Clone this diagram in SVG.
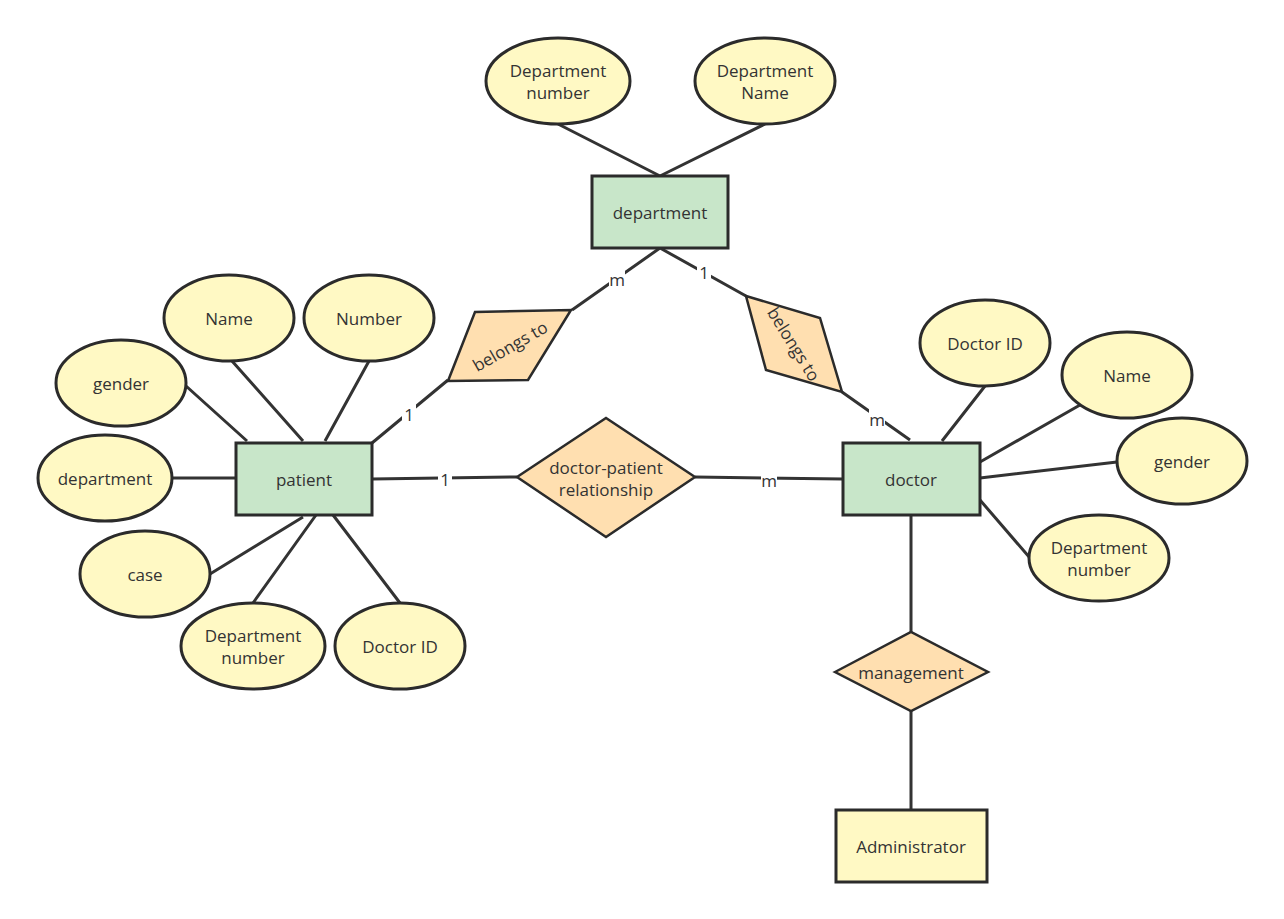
<svg xmlns="http://www.w3.org/2000/svg" width="1284" height="919" viewBox="0 0 1284 919">
<style>
.e{fill:#fff9c4;stroke:#2b2b2b;stroke-width:3}
.r{fill:#c8e6c9;stroke:#2b2b2b;stroke-width:3}
.d{fill:#ffdfb0;stroke:#2b2b2b;stroke-width:2.5}
.l{stroke:#333;stroke-width:3;fill:none}
text{font-family:"Open Sans","Noto Sans",sans-serif;font-size:17px;fill:#333;text-anchor:middle;dominant-baseline:central}
.lb{fill:#fff}
</style>
<rect width="1284" height="919" fill="#fff"/>
<g id="connectors">
<path class="l" d="M558 124L660 176M765 124L660 176M660 248L572 310M660 248L746 296M372 443L448 380M842 392L910 440M372 479L517 477M695 477L843 479M985 386L942 441M1080 405L980 462M1117 462L980 478M1030 558L980 500M911 515L911 632M911 711L911 810M232 361L303 441M369 361L325 441M186 386L247 441M172 478L236 478M210 574L303 517M253 603L316 515M400 603L330 511"/>
<rect class="lb" x="609" y="270" width="16" height="20"/><text x="617" y="279">m</text>
<rect class="lb" x="697" y="262" width="14" height="20"/><text x="704" y="272">1</text>
<rect class="lb" x="402" y="404" width="14" height="20"/><text x="409" y="414">1</text>
<rect class="lb" x="869" y="409" width="16" height="20"/><text x="877" y="419">m</text>
<rect class="lb" x="438" y="469" width="14" height="20"/><text x="445" y="479">1</text>
<rect class="lb" x="761" y="470" width="16" height="20"/><text x="769" y="480">m</text>
</g>
<g id="department"><rect class="r" x="592" y="176" width="136" height="72"/><text x="660" y="212">department</text></g>
<g id="dept-number"><ellipse class="e" cx="558" cy="81" rx="72" ry="43"/><text x="558" y="70">Department</text><text x="558" y="92">number</text></g>
<g id="dept-name"><ellipse class="e" cx="765" cy="81" rx="70" ry="43"/><text x="765" y="70">Department</text><text x="765" y="92">Name</text></g>
<g id="belongs1"><polygon class="d" points="448,381 475,312 571,310 528,380"/><text x="510" y="346" transform="rotate(-30 510 346)">belongs to</text></g>
<g id="belongs2"><polygon class="d" points="746,296 820,318 842,392 766,370"/><text x="794" y="344" transform="rotate(58 794 344)">belongs to</text></g>
<g id="patient"><rect class="r" x="236" y="443" width="136" height="72"/><text x="304" y="479">patient</text></g>
<g id="doctor"><rect class="r" x="843" y="443" width="137" height="72"/><text x="911" y="479">doctor</text></g>
<g id="relationship"><polygon class="d" points="517,477 606,418 695,477 606,537"/><text x="606" y="467">doctor-patient</text><text x="606" y="489">relationship</text></g>
<g id="management"><polygon class="d" points="835,672 911,632 988,672 911,711"/><text x="911" y="672">management</text></g>
<g id="administrator"><rect x="836" y="810" width="151" height="72" fill="#fff9c4" stroke="#2b2b2b" stroke-width="3"/><text x="911" y="846">Administrator</text></g>
<g id="d-id"><ellipse class="e" cx="985" cy="343" rx="65" ry="43"/><text x="985" y="343">Doctor ID</text></g>
<g id="d-name"><ellipse class="e" cx="1127" cy="375" rx="65" ry="43"/><text x="1127" y="375">Name</text></g>
<g id="d-gender"><ellipse class="e" cx="1182" cy="461" rx="65" ry="43"/><text x="1182" y="461">gender</text></g>
<g id="d-dept"><ellipse class="e" cx="1099" cy="558" rx="70" ry="43"/><text x="1099" y="547">Department</text><text x="1099" y="569">number</text></g>
<g id="p-name"><ellipse class="e" cx="229" cy="318" rx="65" ry="43"/><text x="229" y="318">Name</text></g>
<g id="p-number"><ellipse class="e" cx="369" cy="318" rx="65" ry="43"/><text x="369" y="318">Number</text></g>
<g id="p-gender"><ellipse class="e" cx="121" cy="383" rx="65" ry="43"/><text x="121" y="383">gender</text></g>
<g id="p-dept"><ellipse class="e" cx="105" cy="478" rx="67" ry="43"/><text x="105" y="478">department</text></g>
<g id="p-case"><ellipse class="e" cx="145" cy="574" rx="65" ry="43"/><text x="145" y="574">case</text></g>
<g id="p-deptnum"><ellipse class="e" cx="253" cy="646" rx="72" ry="43"/><text x="253" y="635">Department</text><text x="253" y="657">number</text></g>
<g id="p-docid"><ellipse class="e" cx="400" cy="646" rx="65" ry="43"/><text x="400" y="646">Doctor ID</text></g>
</svg>
